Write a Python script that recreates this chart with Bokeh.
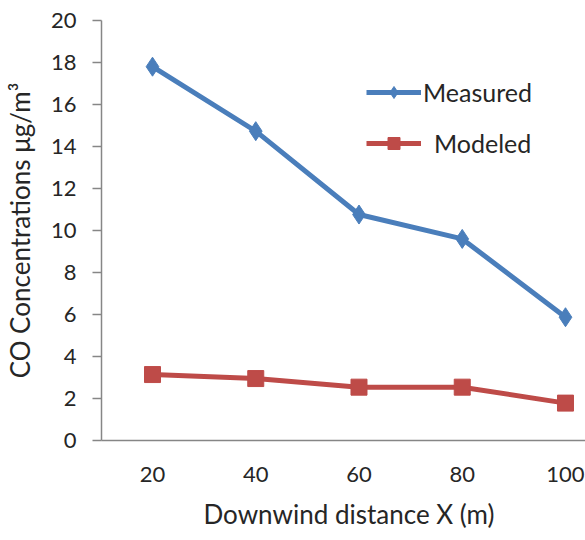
from bokeh.plotting import figure
from bokeh.models import Range1d, FixedTicker, Legend, LegendItem, Title
from bokeh.embed import file_html
from bokeh.resources import INLINE

distance = [20, 40, 60, 80, 100]
measured = [17.8, 14.73, 10.76, 9.6, 5.87]
modeled = [3.14, 2.95, 2.54, 2.54, 1.78]
y_ticks = [0, 2, 4, 6, 8, 10, 12, 14, 16, 18, 20]

FONT = "Lato"
BLUE = "#4A7EBB"
RED = "#BE4B48"
TXT = "#262626"

p = figure(width=585, height=540, output_backend="svg", toolbar_location=None,
           x_range=Range1d(10.12, 104.65), y_range=Range1d(0, 20),
           min_border_left=97, min_border_right=0, min_border_top=20, min_border_bottom=100)
p.frame_width = 488
p.frame_height = 420
p.outline_line_color = None
p.xgrid.grid_line_color = None
p.ygrid.grid_line_color = None

for ax in (p.xaxis[0], p.yaxis[0]):
    ax.axis_line_color = "#868686"
    ax.axis_line_width = 1.5
    ax.major_tick_line_color = "#868686"
    ax.major_tick_line_width = 1.5
    ax.minor_tick_line_color = None
    ax.major_label_text_font = FONT
    ax.major_label_text_font_size = "22px"
    ax.major_label_text_color = TXT
    ax.axis_label_text_font = FONT
    ax.axis_label_text_font_style = "normal"
    ax.axis_label_text_color = TXT

p.xaxis.ticker = FixedTicker(ticks=distance)
p.xaxis.major_tick_out = 0
p.xaxis.major_tick_in = 0
p.xaxis.major_label_standoff = 26

p.yaxis.ticker = FixedTicker(ticks=y_ticks)
p.yaxis.major_tick_out = 9
p.yaxis.major_tick_in = 0
p.yaxis.major_label_standoff = 16
p.yaxis.axis_label = "CO Concentrations μg/m³"
p.yaxis.axis_label_text_font_size = "26px"
p.yaxis.axis_label_standoff = 12

xtitle = Title(text="Downwind distance X (m)", align="left", offset=102,
               text_font=FONT, text_font_size="26px", text_font_style="normal",
               text_color=TXT, standoff=22)
p.add_layout(xtitle, "below")

l1 = p.line(distance, measured, line_color=BLUE, line_width=5)
m1 = p.scatter(distance, measured, marker="diamond", size=19, fill_color=BLUE, line_color=BLUE)
l2 = p.line(distance, modeled, line_color=RED, line_width=5)
m2 = p.scatter(distance, modeled, marker="square", size=16, fill_color=RED, line_color=RED)


def make_legend(label, renderers, loc, standoff):
    lg = Legend(items=[LegendItem(label=label, renderers=renderers)], location=loc)
    lg.border_line_color = None
    lg.background_fill_alpha = 0
    lg.padding = 0
    lg.margin = 0
    lg.glyph_width = 55
    lg.glyph_height = 30
    lg.label_height = 30
    lg.label_standoff = standoff
    lg.label_text_font = FONT
    lg.label_text_font_size = "25px"
    lg.label_text_color = TXT
    return lg


p.add_layout(make_legend("Measured", [l1, m1], (265, 333), 2))
p.add_layout(make_legend("Modeled", [l2, m2], (265, 282), 13))

open("out.html", "w").write(file_html(p, INLINE))
